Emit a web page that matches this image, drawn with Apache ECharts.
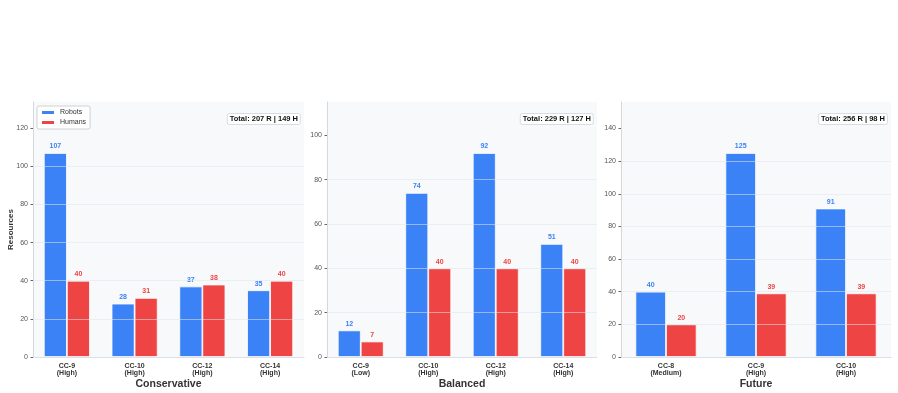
<!DOCTYPE html>
<html>
<head>
<meta charset="utf-8">
<script src="https://cdn.jsdelivr.net/npm/echarts@6/dist/echarts.min.js"></script>
<style>html,body{margin:0;padding:0;background:#fff;}#c{width:898px;height:393px;}</style>
</head>
<body>
<div id="c"></div>
<script>
// ---- data ----
const panelNames = ['Conservative', 'Balanced', 'Future'];
const cats1 = ['CC-9', 'CC-10', 'CC-12', 'CC-14'];
const levels1 = ['High', 'High', 'High', 'High'];
const robots1 = [107, 28, 37, 35];
const humans1 = [40, 31, 38, 40];

const cats2 = ['CC-9', 'CC-10', 'CC-12', 'CC-14'];
const levels2 = ['Low', 'High', 'High', 'High'];
const robots2 = [12, 74, 92, 51];
const humans2 = [7, 40, 40, 40];

const cats3 = ['CC-8', 'CC-9', 'CC-10'];
const levels3 = ['Medium', 'High', 'High'];
const robots3 = [40, 125, 91];
const humans3 = [20, 39, 39];

const yTicks1 = [0, 20, 40, 60, 80, 100, 120];
const yTicks2 = [0, 20, 40, 60, 80, 100];
const yTicks3 = [0, 20, 40, 60, 80, 100, 120, 140];

const seriesNames = ['Robots', 'Humans'];
const yAxisTitle = 'Resources';

// ---- layout / style ----
const BLUE = '#3b82f6', RED = '#ef4444';
const FONT = '"Liberation Sans", Arial, sans-serif';
const grids = [
  {left: 33, right: 594, top: 102, bottom: 36},
  {left: 327, right: 301, top: 102, bottom: 36},
  {left: 621, right: 7, top: 102, bottom: 36}
];
const titleRights = [597, 304, 10];

const panels = [
  {cats: cats1, levels: levels1, r: robots1, h: humans1, ticks: yTicks1},
  {cats: cats2, levels: levels2, r: robots2, h: humans2, ticks: yTicks2},
  {cats: cats3, levels: levels3, r: robots3, h: humans3, ticks: yTicks3}
];

const sum = a => a.reduce((s, v) => s + v, 0);

const option = {
  animation: false,
  textStyle: {fontFamily: FONT},
  grid: grids.map(g => Object.assign({show: true, backgroundColor: '#f8f9fb', borderWidth: 0, containLabel: false, outerBoundsMode: 'none'}, g)),
  title: panels.map((p, i) => ({
    text: 'Total: ' + sum(p.r) + ' R | ' + sum(p.h) + ' H',
    right: titleRights[i], top: 113,
    padding: [2, 3, 2, 3],
    backgroundColor: '#fff', borderColor: '#d9dce1', borderWidth: 1, borderRadius: 2,
    textStyle: {fontSize: 7.5, fontWeight: 'bold', color: '#111', fontFamily: FONT, lineHeight: 8}
  })),
  legend: {
    data: seriesNames,
    orient: 'vertical', left: 37, top: 106,
    padding: [3, 4, 3, 3], itemGap: 3,
    itemWidth: 14, itemHeight: 5,
    backgroundColor: '#fff', borderColor: '#cfd2d6', borderWidth: 1, borderRadius: 2,
    textStyle: {fontSize: 7, color: '#333', fontFamily: FONT}
  },
  xAxis: panels.map((p, i) => ({
    type: 'category', gridIndex: i,
    data: p.cats.map((c, k) => c + '\n(' + p.levels[k] + ')'),
    name: panelNames[i], nameLocation: 'middle', nameGap: 22, nameMoveOverlap: false,
    nameTextStyle: {fontSize: 10.5, fontWeight: 'bold', color: '#333', fontFamily: FONT},
    axisLine: {lineStyle: {color: '#d5d8dd', width: 1}},
    axisTick: {alignWithLabel: true, length: 2.5, lineStyle: {color: '#666'}},
    axisLabel: {fontSize: 7, fontWeight: 'bold', color: '#333', lineHeight: 7.5, margin: 5, fontFamily: FONT},
    splitLine: {show: false}
  })),
  yAxis: panels.map((p, i) => ({
    type: 'value', gridIndex: i, min: 0,
    max: Math.max(...p.r, ...p.h) * 1.25,
    interval: 20, z: 5,
    name: i === 0 ? yAxisTitle : '',
    nameLocation: 'middle', nameGap: 18, nameRotate: 90, nameMoveOverlap: false,
    nameTextStyle: {fontSize: 8, fontWeight: 'bold', color: '#333', fontFamily: FONT},
    axisLine: {show: true, lineStyle: {color: '#d5d8dd', width: 1}},
    axisTick: {show: true, length: 2.5, lineStyle: {color: '#666'}, customValues: p.ticks},
    axisLabel: {fontSize: 7, color: '#555', margin: 5, customValues: p.ticks, fontFamily: FONT},
    splitLine: {show: true, showMaxLine: false, lineStyle: {color: 'rgba(225,229,236,0.55)', width: 1}}
  })),
  series: []
};

panels.forEach((p, i) => {
  [[p.r, BLUE, seriesNames[0]], [p.h, RED, seriesNames[1]]].forEach(([vals, col, nm]) => {
    option.series.push({
      type: 'bar', name: nm, xAxisIndex: i, yAxisIndex: i,
      data: vals,
      barWidth: '34%', barGap: '0%',
      itemStyle: {color: col, borderColor: '#fff', borderWidth: 0.8},
      label: {show: true, position: 'top', distance: 3, fontSize: 7, fontWeight: 'bold', color: col, fontFamily: FONT}
    });
  });
});

const chart = echarts.init(document.getElementById('c'), null, {renderer: 'canvas'});
chart.setOption(option);
</script>
</body>
</html>
